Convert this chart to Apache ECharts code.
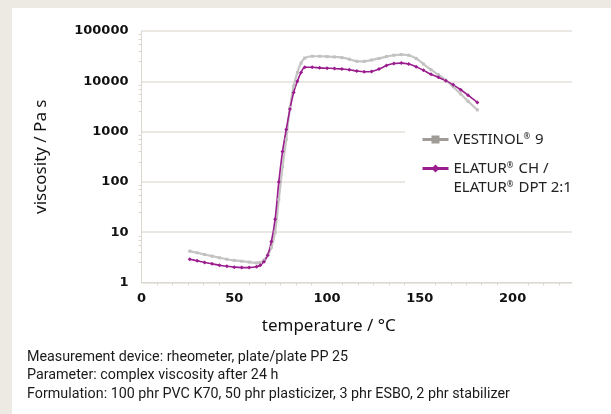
<!DOCTYPE html>
<html>
<head>
<meta charset="utf-8">
<script src="https://cdn.jsdelivr.net/npm/echarts@6/dist/echarts.min.js"></script>
<style>
  html, body { margin: 0; padding: 0; background: #ede9e3; }
  #panel { position: absolute; left: 12px; top: 8px; width: 599px; height: 406px; background: #fff; }
  #chart { position: absolute; left: 0; top: 0; width: 611px; height: 414px; }
</style>
</head>
<body>
<div id="panel"></div>
<div id="chart"></div>
<script>
// temperature / °C
var temps = [26, 30, 34, 38, 42, 46, 50, 54, 58, 62, 64, 66, 68, 70, 72, 74, 76, 78, 80, 82, 84, 86, 88,
  92, 96, 100, 104, 108, 112, 116, 120, 124, 128, 132, 136, 140, 144, 148, 152, 156, 160, 164, 168, 172, 176, 181];
// viscosity / Pa s
var vestinol = [4.2, 3.9, 3.6, 3.35, 3.1, 2.9, 2.75, 2.65, 2.55, 2.45, 2.5, 2.8, 3.5, 5, 10, 45, 200, 700, 3000, 8000, 15000, 23000, 29000,
  31500, 31500, 31000, 30500, 29500, 27500, 25000, 25000, 26500, 28500, 31000, 33000, 34000, 33000, 28500, 22000, 17000, 13500, 10500, 7800, 5600, 4000, 2700];
var elatur = [2.9, 2.7, 2.5, 2.35, 2.2, 2.1, 2.02, 1.98, 1.98, 2.05, 2.2, 2.6, 3.5, 6.5, 18, 100, 400, 1100, 2800, 6000, 10000, 15000, 19000,
  19000, 18500, 18200, 18000, 17500, 17000, 16000, 15500, 15700, 17500, 20500, 22500, 23000, 22000, 19500, 16500, 13800, 12000, 10300, 8500, 6800, 5300, 3800];
var xTicks = [0, 50, 100, 150, 200];
var notes = [
  'Measurement device: rheometer, plate/plate PP 25',
  'Parameter: complex viscosity after 24 h',
  'Formulation: 100 phr PVC K70, 50 phr plasticizer, 3 phr ESBO, 2 phr stabilizer'
];

function pairs(vals) {
  return temps.map(function (t, i) { return [t, vals[i]]; });
}

var labelFont = { color: '#111', fontFamily: 'DejaVu Sans', fontWeight: 'bold', fontSize: 13 };
var lineCol = '#dcd7cf';
var legendRich = {
  sup: { fontSize: 8, fontFamily: 'Noto Sans', color: '#222', padding: [0, 1, 5, 0] }
};

var chart = echarts.init(document.getElementById('chart'));
chart.setOption({
  animation: false,
  backgroundColor: 'transparent',
  grid: { left: 141.5, right: 39, top: 31, bottom: 131.5 },
  legend: {
    orient: 'vertical',
    left: 405,
    top: 124,
    padding: [6, 12, 6, 16],
    backgroundColor: '#fff',
    itemWidth: 26,
    itemHeight: 10,
    itemGap: -9,
    textStyle: { fontFamily: 'Noto Sans', fontSize: 15, color: '#222', lineHeight: 19, rich: legendRich },
    formatter: function (name) {
      return name.replace(/®/g, '{sup|®}');
    },
    data: [
      { name: 'VESTINOL® 9', itemStyle: { color: '#9f9b96' }, lineStyle: { color: '#9f9b96', width: 3 } },
      { name: 'ELATUR® CH /\nELATUR® DPT 2:1', lineStyle: { width: 3 },
        textStyle: { padding: [19, 0, 0, 0] } }
    ]
  },
  xAxis: {
    type: 'value',
    min: 0,
    max: 232,
    interval: 50,
    name: 'temperature / °C',
    nameLocation: 'middle',
    nameGap: 35,
    nameTextStyle: { fontFamily: 'Noto Sans', fontSize: 17, color: '#111', padding: [0, 56, 0, 0] },
    axisLine: { lineStyle: { color: lineCol } },
    axisTick: { show: false },
    minorTick: { show: true, splitNumber: 6, length: 3, lineStyle: { color: lineCol } },
    splitLine: { show: false },
    axisLabel: Object.assign({ margin: 10, formatter: function (v) {
      return xTicks.indexOf(v) >= 0 ? String(v) : '';
    } }, labelFont)
  },
  yAxis: {
    type: 'log',
    logBase: 10,
    min: 1,
    max: 100000,
    name: 'viscosity / Pa s',
    nameLocation: 'middle',
    nameGap: 92,
    nameTextStyle: { fontFamily: 'Noto Sans', fontSize: 17, color: '#111' },
    axisLine: { show: true, lineStyle: { color: lineCol } },
    axisTick: { show: false },
    minorTick: { show: true, splitNumber: 6, length: 3, lineStyle: { color: lineCol } },
    splitLine: { show: true, lineStyle: { color: '#e5e1da', width: 1.5 } },
    axisLabel: Object.assign({ margin: 13, formatter: function (v) { return String(Math.round(v)); } }, labelFont)
  },
  series: [
    {
      name: 'VESTINOL® 9',
      type: 'line',
      smooth: 0.3,
      data: pairs(vestinol),
      symbol: 'rect',
      symbolSize: 3,
      itemStyle: { color: '#c2c1bf' },
      lineStyle: { color: '#c6c5c3', width: 2.2 }
    },
    {
      name: 'ELATUR® CH /\nELATUR® DPT 2:1',
      type: 'line',
      smooth: 0.3,
      data: pairs(elatur),
      symbol: 'diamond',
      symbolSize: 4,
      itemStyle: { color: '#9a1c8d' },
      lineStyle: { color: '#9a1c8d', width: 1.6 }
    }
  ],
  graphic: notes.map(function (txt, i) {
    return {
      type: 'text',
      left: 27,
      top: 350 + i * 18.7,
      style: { text: txt, fontFamily: 'Roboto', fontSize: 14.3, fill: '#1a1a1a' }
    };
  })
});
</script>
</body>
</html>
